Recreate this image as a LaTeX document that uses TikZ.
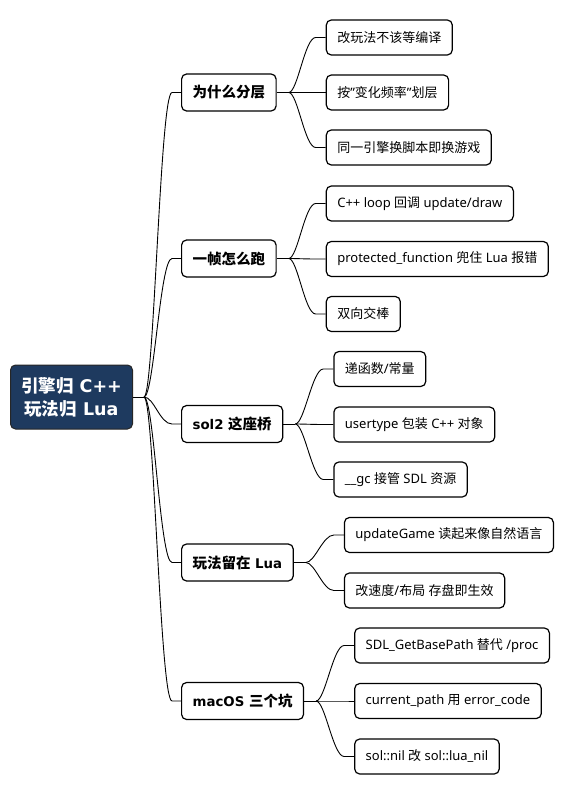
\documentclass[tikz,border=0pt]{standalone}
\usepackage{fontspec}
\setmainfont{Noto Sans}
\newfontfamily\cjkfam{Noto Sans CJK SC}
\newfontfamily\rootfam{DejaVu Sans}
\newfontfamily\topicfam{DejaVu Sans}[Scale=0.92]
% switch to the CJK font for Chinese characters
\XeTeXinterchartokenstate=1
\newXeTeXintercharclass\cjkclass
\count255="3000
\loop
  \XeTeXcharclass\count255=\cjkclass
  \ifnum\count255<"9FFF \advance\count255 by 1
\repeat
\XeTeXinterchartoks 0 \cjkclass={\begingroup\cjkfam}
\XeTeXinterchartoks 4095 \cjkclass={\begingroup\cjkfam}
\XeTeXinterchartoks \cjkclass 0={\endgroup}
\XeTeXinterchartoks \cjkclass 4095={\endgroup}
\definecolor{rootblue}{HTML}{1E3A5F}
\tikzset{
  root/.style={draw=black!85, fill=rootblue, text=white, rounded corners=5pt,
    line width=1pt, font=\rootfam\bfseries\fontsize{17.5}{23}\selectfont,
    align=center, minimum width=122pt, minimum height=64pt, anchor=west},
  topic/.style={draw, fill=white, rounded corners=5pt, line width=1.2pt,
    font=\topicfam\bfseries\fontsize{14.5}{17}\selectfont, inner xsep=11pt,
    minimum height=37pt, anchor=west},
  leaf/.style={draw, fill=white, rounded corners=5pt, line width=1.2pt,
    font=\fontsize{13}{15}\selectfont, inner xsep=11pt,
    minimum height=35pt, anchor=west},
  link/.style={line width=0.9pt}
}
\begin{document}
\begin{tikzpicture}[x=1pt,y=-1pt]
\useasboundingbox (0,0) rectangle (572,794);
% root
\node[root] (root) at (10,397) {引擎归 C++\\玩法归 Lua};
% topics
\node[topic] (b1) at (181,92.5) {为什么分层};
\node[topic] (b2) at (181,258.5) {一帧怎么跑};
\node[topic] (b3) at (181,424) {sol2 这座桥};
\node[topic] (b4) at (181,562.5) {玩法留在 Lua};
\node[topic] (b5) at (181,701) {macOS 三个坑};
% leaves
\node[leaf] (b1-1) at ([shift={(49,-55)}]b1.east) {改玩法不该等编译};
\node[leaf] (b1-2) at ([shift={(49,0)}]b1.east) {按"变化频率"划层};
\node[leaf] (b1-3) at ([shift={(49,55)}]b1.east) {同一引擎换脚本即换游戏};
\node[leaf] (b2-1) at ([shift={(49,-55)}]b2.east) {C++ loop 回调 update/draw};
\node[leaf] (b2-2) at ([shift={(49,0.5)}]b2.east) {protected\_function 兜住 Lua 报错};
\node[leaf] (b2-3) at ([shift={(49,55.5)}]b2.east) {双向交棒};
\node[leaf] (b3-1) at ([shift={(50,-55)}]b3.east) {递函数/常量};
\node[leaf] (b3-2) at ([shift={(50,0.5)}]b3.east) {usertype 包装 C++ 对象};
\node[leaf] (b3-3) at ([shift={(50,55.5)}]b3.east) {\_\_gc 接管 SDL 资源};
\node[leaf] (b4-1) at ([shift={(50,-27.5)}]b4.east) {updateGame 读起来像自然语言};
\node[leaf] (b4-2) at ([shift={(50,28)}]b4.east) {改速度/布局 存盘即生效};
\node[leaf] (b5-1) at ([shift={(50,-55.5)}]b5.east) {SDL\_GetBasePath 替代 /proc};
\node[leaf] (b5-2) at ([shift={(50,0)}]b5.east) {current\_path 用 error\_code};
\node[leaf] (b5-3) at ([shift={(50,55.5)}]b5.east) {sol::nil 改 sol::lua\_nil};
% links
\coordinate (hub) at ([xshift=11pt]root.east);
\draw[link] (root.east) -- (hub);
\foreach \b in {b1,b2,b3,b4,b5}
  \draw[link] (hub) .. controls +(10,0) and +(-12,0) .. ([xshift=-9pt]\b.west) -- (\b.west);
\foreach \b/\n in {b1/3,b2/3,b3/3,b4/2,b5/3} {
  \coordinate (\b-hub) at ([xshift=12pt]\b.east);
  \draw[link] (\b.east) -- (\b-hub);
  \foreach \c in {1,...,\n}
    \draw[link] (\b-hub) .. controls +(9,0) and +(-11,0) .. ([xshift=-10pt]\b-\c.west) -- (\b-\c.west);
}
\end{tikzpicture}
\end{document}
